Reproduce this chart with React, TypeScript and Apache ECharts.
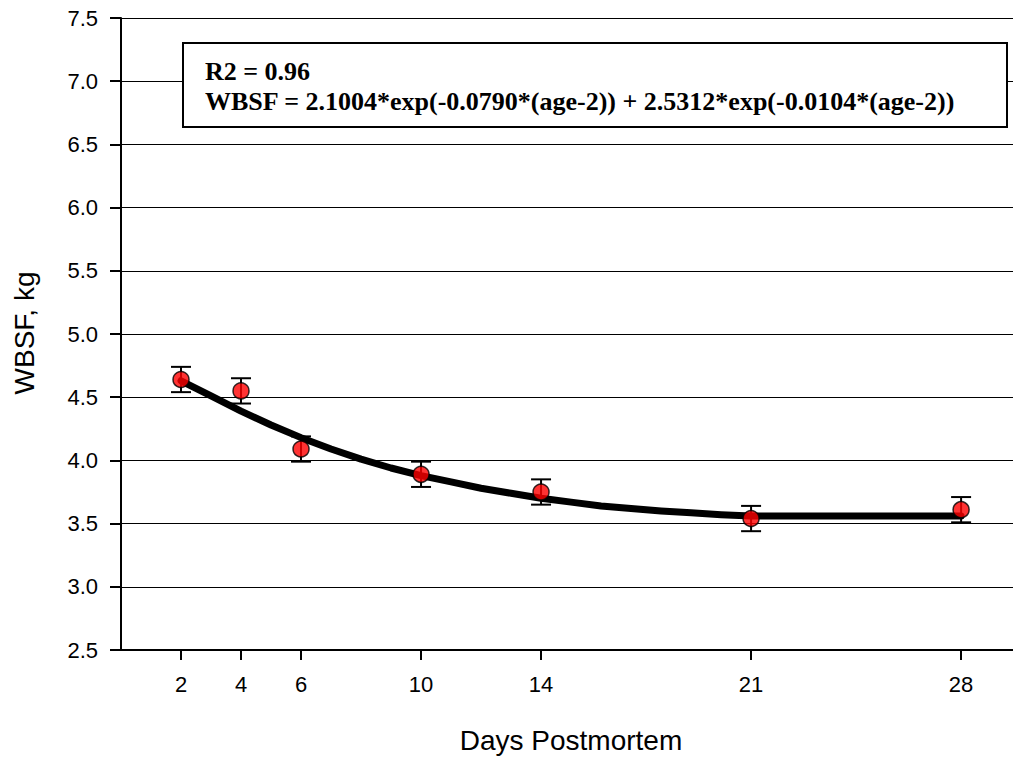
import React, { useEffect, useRef } from "react";
import * as echarts from "echarts";

// Measured means (days postmortem vs WBSF, kg)
const days = [2, 4, 6, 10, 14, 21, 28];
const wbsf = [4.64, 4.55, 4.09, 3.89, 3.75, 3.54, 3.61];
const errLow = [4.54, 4.45, 3.99, 3.79, 3.65, 3.44, 3.51];
const errHigh = [4.74, 4.65, 4.19, 3.99, 3.85, 3.64, 3.71];

// Fitted curve as drawn
const curveDays = [2, 3, 4, 5, 6, 7, 8, 9, 10, 11, 12, 13, 14, 15, 16, 17, 18, 19, 20, 21, 28];
const curveVals = [4.63, 4.51, 4.39, 4.28, 4.18, 4.09, 4.01, 3.94, 3.88, 3.83, 3.78, 3.74, 3.70, 3.67, 3.64, 3.62, 3.60, 3.585, 3.57, 3.56, 3.56];

const xTicks = [2, 4, 6, 10, 14, 21, 28];
const yMin = 2.5;
const yMax = 7.5;
const yStep = 0.5;

const r2Text = "R2 = 0.96";
const eqText = "WBSF = 2.1004*exp(-0.0790*(age-2)) + 2.5312*exp(-0.0104*(age-2))";
const xTitle = "Days Postmortem";
const yTitle = "WBSF, kg";

export default function App() {
  const ref = useRef<HTMLDivElement>(null);
  useEffect(() => {
    if (!ref.current) return;
    const chart = echarts.init(ref.current, null, { renderer: "svg" });
    const sans = "'Liberation Sans', Arial, sans-serif";
    const serif = "'Liberation Serif', 'Times New Roman', serif";
    chart.setOption({
      animation: false,
      backgroundColor: "#ffffff",
      grid: { left: 121, right: 0, top: 18, bottom: 108, containLabel: false },
      xAxis: {
        type: "value",
        min: 0,
        max: 29.73,
        splitLine: { show: false },
        axisLine: { show: true, lineStyle: { color: "#000", width: 2 } },
        axisTick: {
          show: true,
          customValues: xTicks,
          length: 10,
          inside: false,
          lineStyle: { color: "#000", width: 2 },
        },
        axisLabel: {
          customValues: xTicks,
          color: "#000",
          fontFamily: sans,
          fontSize: 22,
          margin: 23,
        },
      },
      yAxis: {
        type: "value",
        min: yMin,
        max: yMax,
        interval: yStep,
        splitLine: { show: true, lineStyle: { color: "#000", width: 1 } },
        axisLine: { show: true, onZero: false, lineStyle: { color: "#000", width: 2 } },
        axisTick: { show: true, length: 11, inside: false, lineStyle: { color: "#000", width: 2 } },
        axisLabel: {
          color: "#000",
          fontFamily: sans,
          fontSize: 22,
          margin: 23,
          formatter: (v: number) => v.toFixed(1),
        },
      },
      series: [
        {
          type: "custom",
          z: 1,
          data: days.map((d, i) => [d, errLow[i], errHigh[i]]),
          renderItem: (params: any, api: any) => {
            const x = api.value(0);
            const lo = api.coord([x, api.value(1)]);
            const hi = api.coord([x, api.value(2)]);
            const half = 10;
            const style = { stroke: "#000", lineWidth: 2 };
            return {
              type: "group",
              children: [
                { type: "line", shape: { x1: lo[0], y1: lo[1], x2: hi[0], y2: hi[1] }, style },
                { type: "line", shape: { x1: lo[0] - half, y1: lo[1], x2: lo[0] + half, y2: lo[1] }, style },
                { type: "line", shape: { x1: hi[0] - half, y1: hi[1], x2: hi[0] + half, y2: hi[1] }, style },
              ],
            };
          },
        },
        {
          type: "line",
          z: 2,
          data: curveDays.map((d, i) => [d, curveVals[i]]),
          smooth: false,
          showSymbol: false,
          symbol: "none",
          lineStyle: { color: "#000", width: 7, join: "round", cap: "round" },
        },
        {
          type: "scatter",
          z: 3,
          data: days.map((d, i) => [d, wbsf[i]]),
          symbol: "circle",
          symbolSize: 16,
          itemStyle: { color: "#ff0000", borderColor: "#000", borderWidth: 1.5 },
        },
      ],
      graphic: [
        {
          type: "rect",
          shape: { x: 183, y: 43, width: 824, height: 84 },
          style: { fill: "#fff", stroke: "#000", lineWidth: 2 },
          z: 10,
        },
        {
          type: "text",
          x: 205,
          y: 71,
          z: 11,
          style: {
            text: r2Text,
            fill: "#000",
            font: `bold 26px ${serif}`,
            textAlign: "left",
            textVerticalAlign: "middle",
          },
        },
        {
          type: "text",
          x: 205,
          y: 101,
          z: 11,
          style: {
            text: eqText,
            fill: "#000",
            font: `bold 26px ${serif}`,
            textAlign: "left",
            textVerticalAlign: "middle",
          },
        },
        {
          type: "text",
          x: 571,
          y: 740,
          style: {
            text: xTitle,
            fill: "#000",
            font: `28px ${sans}`,
            textAlign: "center",
            textVerticalAlign: "middle",
          },
        },
        {
          type: "text",
          x: 24,
          y: 333,
          rotation: Math.PI / 2,
          style: {
            text: yTitle,
            fill: "#000",
            font: `28px ${sans}`,
            textAlign: "center",
            textVerticalAlign: "middle",
          },
        },
      ],
    });
    return () => chart.dispose();
  }, []);
  return (
    <div
      ref={ref}
      style={{ position: "fixed", left: 0, top: 0, width: 1013, height: 758 }}
    />
  );
}
